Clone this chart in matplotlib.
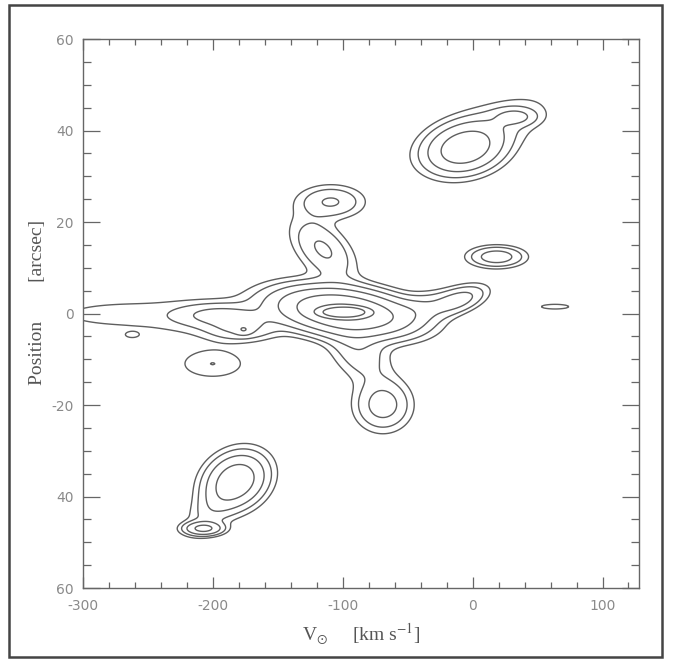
import numpy as np
import matplotlib
matplotlib.use("Agg")
import matplotlib.pyplot as plt
from matplotlib.patches import Rectangle
from matplotlib.ticker import MultipleLocator

plt.rcParams['mathtext.fontset'] = 'stix'

# emission components: centre velocity, centre position,
# peak, width in velocity, width in position, v-p correlation
comp_v   = [-99,  -99,  -265, -195, -178, -190, -176, -40, -10, -109, -115, -88,  -69, -200, -182,  -198, -207, -6,  33,  15,  18.5, 63.5, -262]
comp_p   = [0.3,  0.4,  -0.2, -0.3, -3.2, -1.5, -3.6, 1.0, 3.0, 24.4, 14.0, -8,   -20, -11,  -36.5, -42,  -47,  36,  43,  41,  12.4, 1.5,  -4.8]
comp_amp = [150,  34,   1.3,  3.6,  3.6,  1.2,  3.5,  3.0, 5.0, 4.3,  4.4,  3.4,  5.5, 2.0,  12.5,  2.5,  9.0,  12,  3.8, 2.2, 6.0,  1.3,  0.8]
comp_sv  = [9.4,  29,   60,   20,   16,   30,   4,    18,  13,  15.5, 15,   15,   13,  18,   14.2,  14,   9,    18,  10,  30,  13,   14.5, 6]
comp_sp  = [0.62, 2.95, 3.0,  1.5,  1.7,  3.0,  0.7,  2.5, 2.0, 2.2,  4.2,  4.5,  3.4, 2.3,  3.6,   4.0,  0.9,  3.3, 1.2, 4.5, 1.4,  0.7,  0.7]
comp_rho = [0,    -0.3, 0,    0,    0,    0,    0,    0.5, 0.5, 0,    -0.5, -0.4, 0,   0,    0.2,   0.6,  0,    0.2, 0,   0.6, 0,    0,    0]

levels = [1, 2, 4, 8, 16, 32, 64]

v = np.arange(-300, 128.5, 0.5)
p = np.arange(-60, 60.1, 0.2)
V, P = np.meshgrid(v, p)
flux = np.zeros_like(V)
for v0, p0, a, sv, sp, r in zip(comp_v, comp_p, comp_amp, comp_sv, comp_sp, comp_rho):
    x = (V - v0) / sv
    y = (P - p0) / sp
    flux += a * np.exp(-0.5 * (x ** 2 - 2 * r * x * y + y ** 2) / (1 - r ** 2))

fig = plt.figure(figsize=(6.75, 6.67), dpi=100)
ax = fig.add_axes([0.1225, 0.1184, 0.824, 0.8231])
ax.contour(V, P, flux, levels=levels, colors='#5e5e5e', linewidths=1.0)

ax.set_xlim(-300, 128)
ax.set_ylim(-60, 60)

xt = [-300, -200, -100, 0, 100]
yt = [60, 40, 20, 0, -20, -40, -60]
ylab = ['60', '40', '20', '0', '-20', '40', '60']
ax.set_xticks(xt)
ax.set_xticklabels(['-300', '-200', '-100', '0', '100'])
ax.set_yticks(yt)
ax.set_yticklabels(ylab)
ax.xaxis.set_minor_locator(MultipleLocator(20))
ax.yaxis.set_minor_locator(MultipleLocator(5))
ax.tick_params(which='both', direction='in', top=True, right=True,
               colors='#666666', labelcolor='#8a8a8a', labelsize=10, width=0.9)
ax.tick_params(axis='x', which='major', length=8, pad=8)
ax.tick_params(axis='x', which='minor', length=4)
ax.tick_params(axis='y', which='major', length=12, pad=6.5)
ax.tick_params(axis='y', which='minor', length=6)
for s in ax.spines.values():
    s.set_color('#666666')
    s.set_linewidth(1.0)

ax.set_xlabel(r'V$_{\odot}$     [km s$^{-1}$]', fontfamily='Liberation Serif',
              fontsize=14, color='#555555', labelpad=6)
ax.set_ylabel('Position        [arcsec]', fontfamily='Liberation Serif',
              fontsize=14, color='#555555')
ax.yaxis.set_label_coords(-0.066, 0.52)

# frame round the whole figure, as in the scanned page
fig.patches.append(Rectangle((0.014, 0.015), 0.967, 0.978, transform=fig.transFigure,
                             fill=False, edgecolor='#444444', linewidth=1.8))

fig.savefig('out.png', dpi=100)
